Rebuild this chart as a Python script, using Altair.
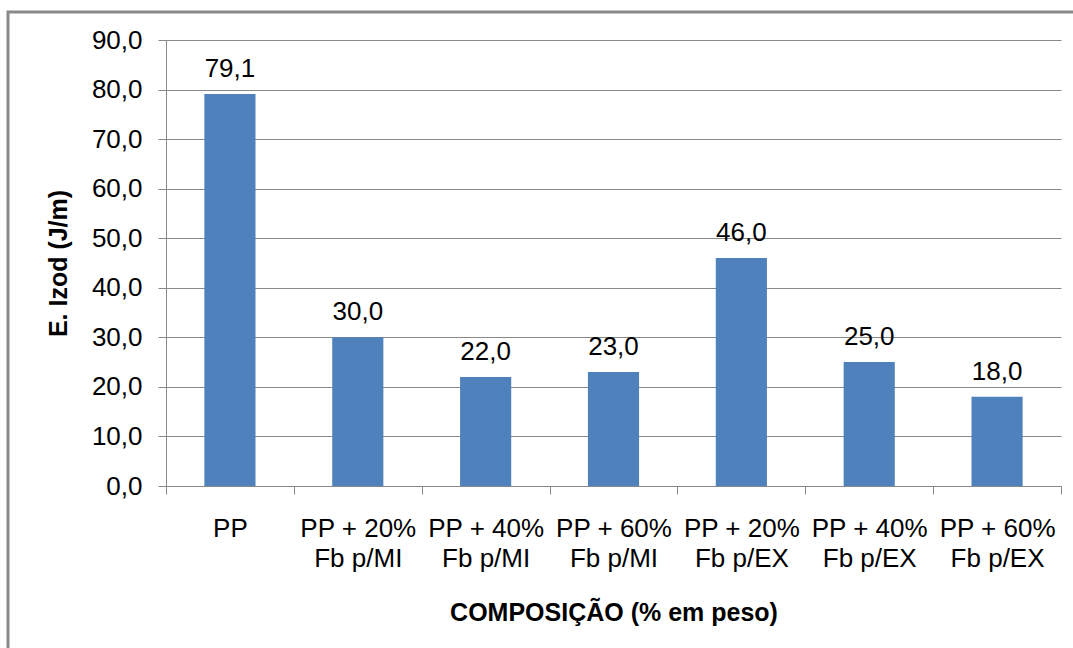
import altair as alt
import pandas as pd

categories = [
    "PP",
    "PP + 20%\nFb p/MI",
    "PP + 40%\nFb p/MI",
    "PP + 60%\nFb p/MI",
    "PP + 20%\nFb p/EX",
    "PP + 40%\nFb p/EX",
    "PP + 60%\nFb p/EX",
]
values = [79.1, 30.0, 22.0, 23.0, 46.0, 25.0, 18.0]
y_ticks = [0, 10, 20, 30, 40, 50, 60, 70, 80, 90]

df = pd.DataFrame({"cat": categories, "val": values})

W, H = 895, 446
FONT = "Liberation Sans"
GRAY = "#898989"
BLUE = "#4F81BD"
LBL = 26
TTL = 25

x_enc = alt.X(
    "cat:N",
    sort=None,
    scale=alt.Scale(paddingInner=0, paddingOuter=0),
    axis=alt.Axis(
        title="COMPOSIÇÃO (% em peso)",
        labelAngle=0,
        labelExpr="split(datum.label, '\\n')",
        labelLineHeight=30,
        labelFontSize=LBL,
        labelFont=FONT,
        labelColor="black",
        labelBaseline="top",
        labelPadding=21,
        labelLimit=0,
        tickBand="extent",
        tickSize=8,
        tickColor=GRAY,
        tickWidth=1,
        domainColor=GRAY,
        domainWidth=1,
        grid=False,
        titleFont=FONT,
        titleFontSize=TTL,
        titleFontWeight="bold",
        titleColor="black",
        titleBaseline="middle",
        titleY=126,
    ),
)

y_enc = alt.Y(
    "val:Q",
    scale=alt.Scale(domain=[0, 90], nice=False),
    axis=alt.Axis(
        title="E. Izod (J/m)",
        values=y_ticks,
        labelExpr="replace(format(datum.value, '.1f'), '.', ',')",
        labelFontSize=LBL,
        labelFont=FONT,
        labelColor="black",
        labelPadding=16,
        tickSize=8,
        tickColor=GRAY,
        domainColor=GRAY,
        grid=True,
        gridColor=GRAY,
        gridWidth=1,
        titleFont=FONT,
        titleFontSize=TTL,
        titleFontWeight="bold",
        titleColor="black",
        titleAngle=270,
        titleX=-108,
        titleY=H / 2,
        titleAlign="center",
        titleBaseline="middle",
    ),
)

base = alt.Chart(df)

bars = base.mark_bar(color=BLUE, width=alt.RelativeBandSize(0.4)).encode(
    x=x_enc, y=y_enc
)

labels = base.transform_calculate(
    lbl="replace(format(datum.val, '.1f'), '.', ',')"
).mark_text(
    dy=-17, baseline="alphabetic", fontSize=LBL, font=FONT, color="black"
).encode(x=alt.X("cat:N", sort=None), y="val:Q", text="lbl:N")

frame = alt.Chart(pd.DataFrame({"a": [0]})).mark_rect(
    fill=None, stroke=GRAY, strokeWidth=3
).encode(
    x=alt.value(-158), x2=alt.value(1100), y=alt.value(-28), y2=alt.value(700)
)

chart = alt.layer(frame, bars, labels).properties(
    width=W,
    height=H,
    autosize=alt.AutoSizeParams(type="none"),
    padding={"left": 166, "top": 40, "right": 12, "bottom": 162},
    background="white",
).configure_view(stroke=None)

chart.save("out.html", embed_options={"renderer": "svg", "actions": False})
